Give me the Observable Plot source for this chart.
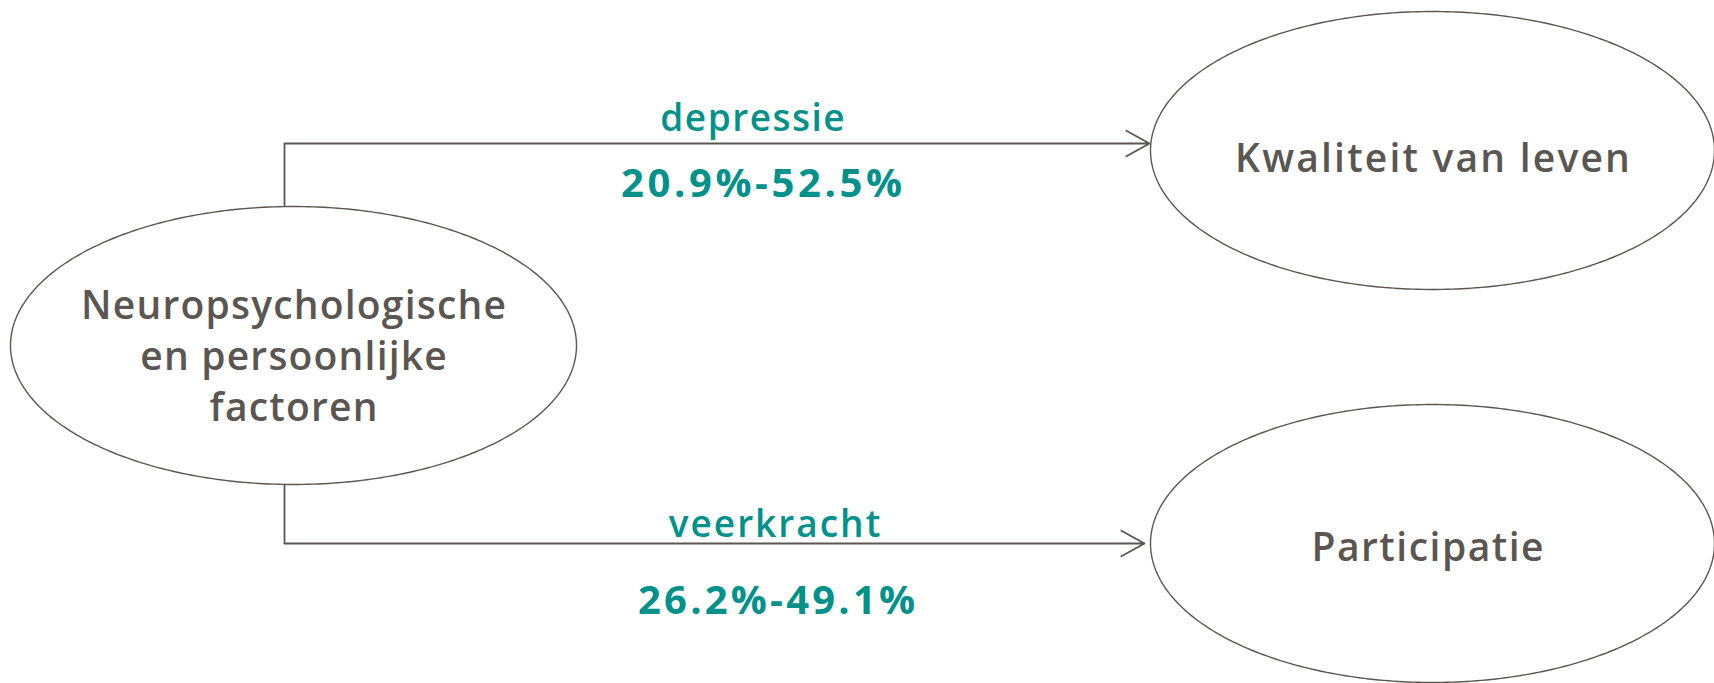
<!DOCTYPE html>
<html>
<head>
<meta charset="utf-8">
<script src="https://cdn.jsdelivr.net/npm/d3@7"></script>
<script src="https://cdn.jsdelivr.net/npm/@observablehq/plot@0.6"></script>
<style>
  html, body { margin: 0; padding: 0; background: #fff; }
</style>
</head>
<body>
<div id="chart"></div>
<script>
// ---- data ----
const nodeLabels = ["Neuropsychologische\nen persoonlijke\nfactoren", "Kwaliteit van leven", "Participatie"];
const mediatorLabels = ["depressie", "veerkracht"];
const rangeLabels = ["20.9%-52.5%", "26.2%-49.1%"];

// ---- layout (pixel units) ----
const W = 1714, H = 683;
const nodeCX = [293, 1432, 1432];
const nodeCY = [345, 150, 543];
const nodeRX = [283, 282, 282];
const nodeRY = [139, 139, 139];
const nodeTextX = [293, 1432, 1427];
const nodeTextY = [353, 155, 544];
const nodeSpacing = [1.2, 2.2, 1.5];
const pathY = [143, 543];
const pathX0 = 284;
const pathX1 = [1149, 1144];
const mediatorX = [752, 774];
const mediatorY = [119, 525];
const mediatorSpacing = [1.5, 2.0];
const rangeX = [761, 776];
const rangeY = [184, 601];
const rangeSpacing = [3.6, 3.2];

const DARK = "#5b5651";
const TEAL = "#00918a";
const FONT = "'Open Sans', Lato, sans-serif";

const nodes = nodeLabels.map((label, i) => ({label, cx: nodeCX[i], cy: nodeCY[i], rx: nodeRX[i], ry: nodeRY[i], tx: nodeTextX[i], ty: nodeTextY[i]}));

// ellipse outlines from node geometry
const outline = nodes.flatMap((n, i) =>
  d3.range(0, 360, 1).map(a => ({id: i, x: n.cx + n.rx * Math.cos(a * Math.PI / 180), y: n.cy + n.ry * Math.sin(a * Math.PI / 180)}))
);

const links = mediatorLabels.map((m, i) => ({
  mediator: m, range: rangeLabels[i],
  x0: pathX0, yStart: i === 0 ? nodes[0].cy - nodes[0].ry : nodes[0].cy + nodes[0].ry,
  y: pathY[i], x1: pathX1[i],
  mx: mediatorX[i], my: mediatorY[i], rx: rangeX[i], ry: rangeY[i]
}));

const plot = Plot.plot({
  width: W, height: H,
  margin: 0,
  x: {domain: [0, W], range: [0, W], axis: null},
  y: {domain: [0, H], range: [0, H], axis: null},
  style: {background: "#fff", fontFamily: FONT},
  marks: [
    Plot.line(outline, {x: "x", y: "y", z: "id", curve: "linear-closed", stroke: DARK, strokeWidth: 1.4}),
    Plot.link(links, {x1: "x0", y1: "yStart", x2: "x0", y2: "y", stroke: DARK, strokeWidth: 1.8}),
    Plot.arrow(links, {x1: "x0", y1: "y", x2: "x1", y2: "y", stroke: DARK, strokeWidth: 1.8, headLength: 22, headAngle: 58, insetEnd: 0, insetStart: 0}),
    Plot.text(nodes, {x: "tx", y: "ty", text: "label", fill: DARK, fontSize: 39, fontWeight: 600, lineHeight: 1.32, fontFamily: FONT}),
    Plot.text(links, {x: "mx", y: "my", text: "mediator", fill: TEAL, fontSize: 37, fontWeight: 600, fontFamily: FONT}),
    Plot.text(links, {x: "rx", y: "ry", text: "range", fill: TEAL, fontSize: 40, fontWeight: 700, fontFamily: FONT})
  ]
});
// per-label letter spacing
const textGroups = plot.querySelectorAll("g[aria-label='text']");
const spacings = [nodeSpacing, mediatorSpacing, rangeSpacing];
textGroups.forEach((g, gi) => {
  g.querySelectorAll(":scope > text").forEach((t, ti) => {
    const s = spacings[gi][ti];
    t.setAttribute("letter-spacing", s + "px");
    t.setAttribute("transform", (t.getAttribute("transform") || "") + ` translate(${s / 2},0)`);
  });
});
document.getElementById("chart").appendChild(plot);
</script>
</body>
</html>
